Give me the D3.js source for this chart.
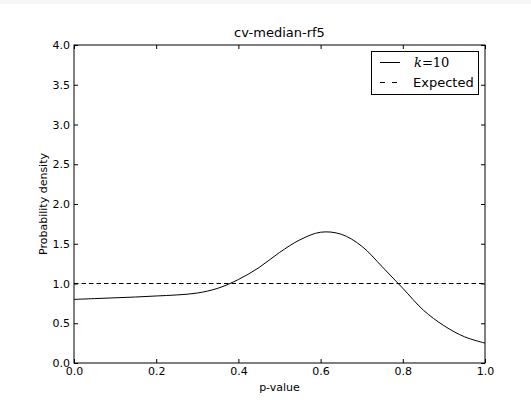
<html>
  <head>
    <style>
      body { margin: 0; background: #fff; }
      text { font-family: "DejaVu Sans", sans-serif; fill: #000; }
      .tick text { font-size: 11px; }
      .math { font-family: "DejaVu Serif", serif; }
    </style>
    <script src="https://cdnjs.cloudflare.com/ajax/libs/d3/7.8.5/d3.min.js" type="text/javascript"></script>
  </head>
  <body>
    <script>
      // Values.
      var pValues = [0, 0.05, 0.1, 0.15, 0.2, 0.25, 0.3, 0.35, 0.4, 0.45, 0.5,
                     0.55, 0.6, 0.65, 0.7, 0.75, 0.8, 0.85, 0.9, 0.95, 1.0];
      var density = [0.80, 0.81, 0.82, 0.83, 0.843, 0.856, 0.88, 0.94, 1.05, 1.2, 1.39,
                     1.55, 1.645, 1.62, 1.47, 1.21, 0.94, 0.665, 0.47, 0.33, 0.25];
      var expected = [1, 1];
      var xTicks = [0, 0.2, 0.4, 0.6, 0.8, 1.0];
      var yTicks = [0, 0.5, 1, 1.5, 2, 2.5, 3, 3.5, 4];

      var width = 531, height = 400;
      var margin = {left: 74, right: 46, top: 45, bottom: 37};

      var svg = d3.select("body").append("svg")
        .attr("width", width)
        .attr("height", height);

      svg.append("rect").attr("width", width).attr("height", 4).attr("fill", "#f6f6f6");

      var x = d3.scaleLinear().domain([0, 1]).range([margin.left, width - margin.right]);
      var y = d3.scaleLinear().domain([0, 4]).range([height - margin.bottom, margin.top]);

      // ticks point inwards, on all four sides
      svg.append("g")
        .attr("transform", "translate(0," + y(0) + ")")
        .call(d3.axisBottom(x).tickValues(xTicks).tickSizeInner(-4).tickSizeOuter(0).tickPadding(4)
          .tickFormat(d3.format(".1f")));
      svg.append("g")
        .attr("transform", "translate(0," + y(4) + ")")
        .call(d3.axisTop(x).tickValues(xTicks).tickSizeInner(-4).tickSizeOuter(0).tickFormat(""));
      svg.append("g")
        .attr("transform", "translate(" + x(0) + ",0)")
        .call(d3.axisLeft(y).tickValues(yTicks).tickSizeInner(-4).tickSizeOuter(0).tickPadding(4)
          .tickFormat(d3.format(".1f")));
      svg.append("g")
        .attr("transform", "translate(" + x(1) + ",0)")
        .call(d3.axisRight(y).tickValues(yTicks).tickSizeInner(-4).tickSizeOuter(0).tickFormat(""));
      svg.selectAll(".domain").remove();
      svg.selectAll(".tick line").attr("stroke", "#000");
      svg.selectAll(".tick text").attr("fill", "#000");

      // frame
      svg.append("rect")
        .attr("x", x(0)).attr("y", y(4))
        .attr("width", x(1) - x(0)).attr("height", y(0) - y(4))
        .attr("fill", "none").attr("stroke", "#000").attr("stroke-width", 1);

      var line = d3.line()
        .x(function(d, i) { return x(pValues[i]); })
        .y(function(d) { return y(d); })
        .curve(d3.curveCatmullRom.alpha(0.5));

      svg.append("path")
        .datum(density)
        .attr("d", line)
        .attr("fill", "none").attr("stroke", "#000").attr("stroke-width", 1);

      svg.append("path")
        .datum(expected)
        .attr("d", d3.line().x(function(d, i) { return x(i); }).y(function(d) { return y(d); }))
        .attr("fill", "none").attr("stroke", "#000").attr("stroke-width", 1)
        .attr("stroke-dasharray", "4.5,3");

      // titles
      svg.append("text").attr("x", (x(0) + x(1)) / 2).attr("y", 37)
        .attr("text-anchor", "middle").attr("font-size", 13).text("cv-median-rf5");
      svg.append("text").attr("x", (x(0) + x(1)) / 2).attr("y", 391)
        .attr("text-anchor", "middle").attr("font-size", 11).text("p-value");
      svg.append("text")
        .attr("transform", "translate(47," + (y(0) + y(4)) / 2 + ") rotate(-90)")
        .attr("text-anchor", "middle").attr("font-size", 11).text("Probability density");

      // legend
      var lg = svg.append("g");
      lg.append("rect").attr("x", 371.5).attr("y", 51.5).attr("width", 107).attr("height", 43)
        .attr("fill", "#fff").attr("stroke", "#000");
      lg.append("line").attr("x1", 380).attr("x2", 400).attr("y1", 62.5).attr("y2", 62.5)
        .attr("stroke", "#000");
      lg.append("line").attr("x1", 380).attr("x2", 400).attr("y1", 82.5).attr("y2", 82.5)
        .attr("stroke", "#000").attr("stroke-dasharray", "5,7");
      var t1 = lg.append("text").attr("x", 414).attr("y", 67).attr("font-size", 13).attr("class", "math");
      t1.append("tspan").attr("font-style", "italic").text("k");
      t1.append("tspan").text("=10");
      lg.append("text").attr("x", 413).attr("y", 87).attr("font-size", 13).text("Expected");
    </script>
  </body>
</html>
